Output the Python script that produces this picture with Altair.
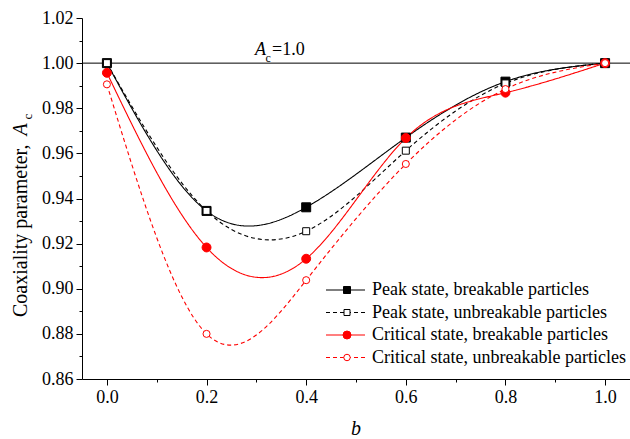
import altair as alt
import pandas as pd

# ---------------- data ----------------
b_values = [0.0, 0.2, 0.4, 0.6, 0.8, 1.0]
peak_breakable = [1.0, 0.9345, 0.9361, 0.9670, 0.9918, 1.0]
peak_unbreakable = [1.0, 0.9345, 0.9255, 0.9612, 0.9910, 1.0]
critical_breakable = [0.9957, 0.9183, 0.9133, 0.9668, 0.9869, 1.0]
critical_unbreakable = [0.9906, 0.8800, 0.9038, 0.9553, 0.9885, 1.0]

series_names = [
    "Peak state, breakable particles",
    "Peak state, unbreakable particles",
    "Critical state, breakable particles",
    "Critical state, unbreakable particles",
]
series_values = [peak_breakable, peak_unbreakable, critical_breakable, critical_unbreakable]

x_ticks = [0.0, 0.2, 0.4, 0.6, 0.8, 1.0]
x_minor = [0.1, 0.3, 0.5, 0.7, 0.9]
y_ticks = [0.86, 0.88, 0.90, 0.92, 0.94, 0.96, 0.98, 1.00, 1.02]
y_minor = [0.87, 0.89, 0.91, 0.93, 0.95, 0.97, 0.99, 1.01]
reference_level = [1.0]

# ---------------- styles ----------------
FONT = "Liberation Serif, Times New Roman, DejaVu Serif, serif"
styles = [
    dict(color="black", dash=[1, 0], shape="square", filled=True, size=81, lsize=49),
    dict(color="black", dash=[4, 3], shape="square", filled=False, size=49, lsize=36),
    dict(color="#ff0000", dash=[1, 0], shape="circle", filled=True, size=80, lsize=64),
    dict(color="#ff0000", dash=[4, 3], shape="circle", filled=False, size=50, lsize=42),
]

rows = []
for name, vals in zip(series_names, series_values):
    for bv, v in zip(b_values, vals):
        rows.append({"series": name, "b": bv, "Ac": v})
df = pd.DataFrame(rows)

xs = alt.Scale(domain=[-0.05, 1.05], nice=False, zero=False)
ys = alt.Scale(domain=[0.86, 1.02], nice=False, zero=False)

common_axis = dict(
    title=None, grid=False, labelFont=FONT, labelFontSize=18, labelColor="black",
    tickColor="black", domainColor="black", tickWidth=1, domainWidth=1,
)
x_axis = alt.Axis(values=x_ticks, format=".1f", orient="bottom", tickSize=6,
                  labelPadding=3, **common_axis)
y_axis = alt.Axis(values=y_ticks, format=".2f", orient="left", tickSize=6,
                  labelPadding=3, **common_axis)
x_minor_axis = alt.Axis(values=x_minor, orient="bottom", labels=False, domain=False,
                        tickSize=3, title=None, grid=False, tickColor="black")
y_minor_axis = alt.Axis(values=y_minor, orient="left", labels=False, domain=False,
                        tickSize=3, title=None, grid=False, tickColor="black")

X = alt.X("b:Q", scale=xs, axis=x_axis)
Y = alt.Y("Ac:Q", scale=ys, axis=y_axis)

layers = []

# reference line Ac = 1.0
layers.append(
    alt.Chart(pd.DataFrame({"Ac": reference_level}))
    .mark_rule(color="black", strokeWidth=1)
    .encode(y=Y)
)

# curves
for name, st in zip(series_names, styles):
    layers.append(
        alt.Chart(df[df.series == name])
        .mark_line(color=st["color"], strokeWidth=1.1, strokeDash=st["dash"],
                   interpolate="natural")
        .encode(x=X, y=Y)
    )

# markers
for name, st in zip(series_names, styles):
    fill = st["color"] if st["filled"] else "white"
    layers.append(
        alt.Chart(df[df.series == name])
        .mark_point(shape=st["shape"], filled=True, fill=fill, stroke=st["color"],
                    strokeWidth=1, size=st["size"], opacity=1, fillOpacity=1)
        .encode(x=X, y=Y)
    )


def txt(s, x, y, size, style="normal", align="left", baseline="alphabetic", angle=0):
    return (
        alt.Chart(pd.DataFrame({"t": [s]}))
        .mark_text(font=FONT, fontSize=size, fontStyle=style, align=align,
                   baseline=baseline, angle=angle, color="black")
        .encode(text="t:N", x=alt.value(x), y=alt.value(y))
    )


# annotation "A_c = 1.0"
layers.append(txt("A", 173, 37, 18, style="italic"))
layers.append(txt("c", 183.5, 44, 12))
layers.append(txt("=1.0", 190, 37, 18))

# axis titles
layers.append(txt("b", 274, 417, 20, style="italic", align="center"))
layers.append(txt("Coaxiality parameter,", -55, 299, 20, angle=270))
layers.append(txt("A", -55, 117.5, 20, style="italic", angle=270))
layers.append(txt("c", -50, 101.5, 13, angle=270))

# legend
legend_y = [272, 294.5, 317, 339.5]
for name, st, ly in zip(series_names, styles, legend_y):
    layers.append(
        alt.Chart(pd.DataFrame({"s": [name]}))
        .mark_rule(color=st["color"], strokeWidth=1.1, strokeDash=st["dash"])
        .encode(x=alt.value(244), x2=alt.value(283), y=alt.value(ly))
    )
    fill = st["color"] if st["filled"] else "white"
    layers.append(
        alt.Chart(pd.DataFrame({"s": [name]}))
        .mark_point(shape=st["shape"], filled=True, fill=fill, stroke=st["color"],
                    strokeWidth=1, size=st["lsize"], opacity=1, fillOpacity=1)
        .encode(x=alt.value(265), y=alt.value(ly))
    )
    layers.append(txt(name, 290, ly, 18, baseline="middle"))

main = alt.layer(*layers)

minor = (
    alt.Chart(df)
    .mark_point(opacity=0)
    .encode(x=alt.X("b:Q", scale=xs, axis=x_minor_axis),
            y=alt.Y("Ac:Q", scale=ys, axis=y_minor_axis))
)

chart = (
    alt.layer(main, minor)
    .resolve_axis(x="independent", y="independent")
    .properties(
        width=548, height=361,
        autosize=alt.AutoSizeParams(type="none"),
        padding={"left": 82, "top": 18, "right": 0, "bottom": 60},
        background="white",
    )
    .configure_view(stroke=None)
)

chart.save("out.html", embed_options={"renderer": "svg", "actions": False})
